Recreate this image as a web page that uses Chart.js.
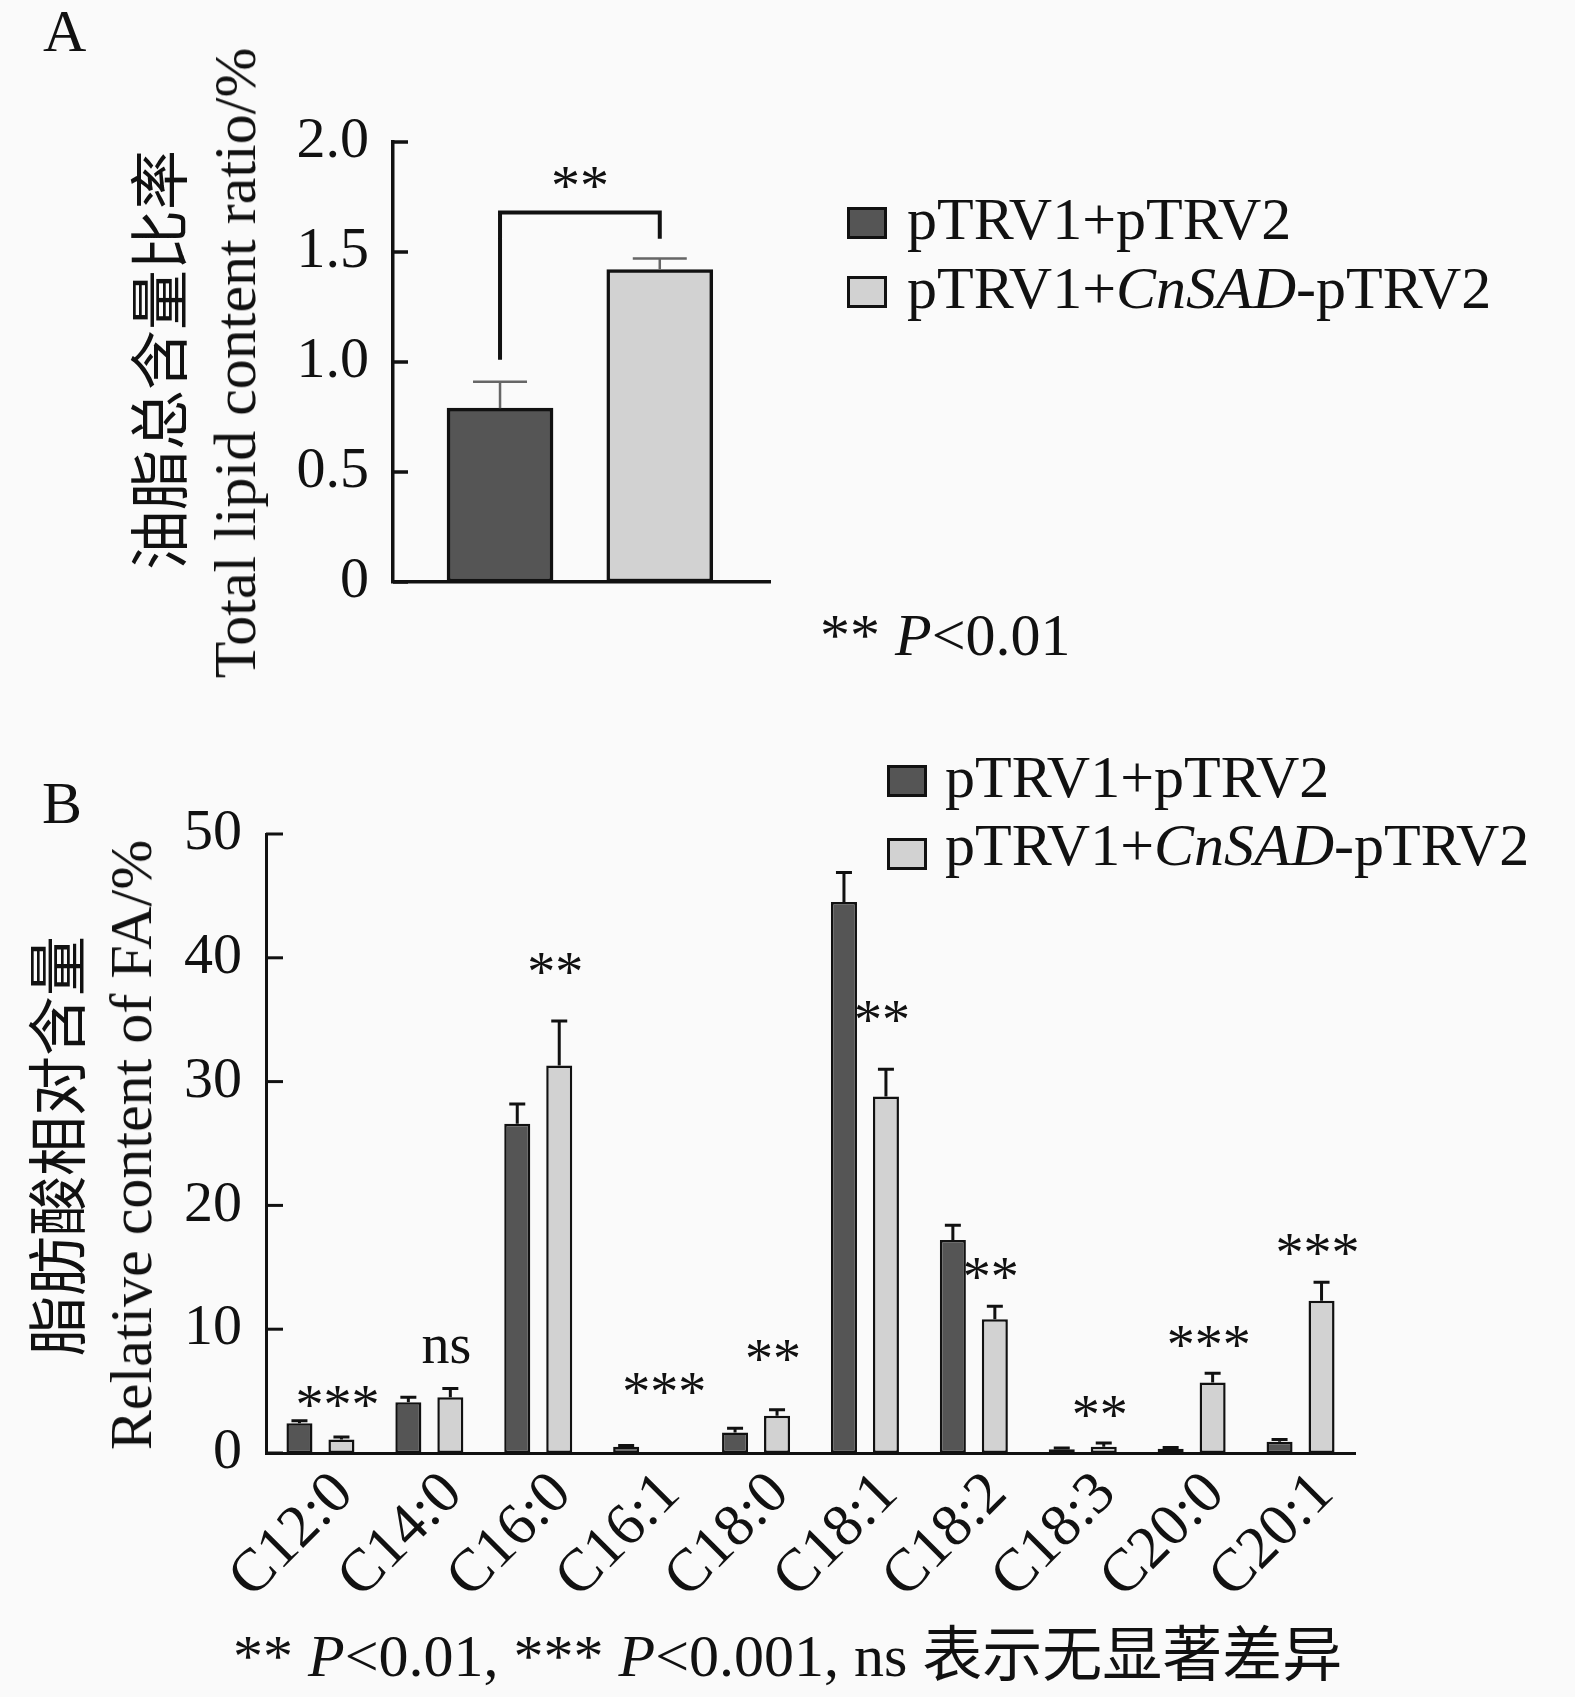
<!DOCTYPE html>
<html>
<head>
<meta charset="utf-8">
<script src="https://cdn.jsdelivr.net/npm/chart.js@4.4.0/dist/chart.umd.min.js"></script>
<style>
body { margin: 0; background: #fafafa; width: 1575px; height: 1697px; position: relative; overflow: hidden; }
canvas { position: absolute; left: 0; }
.t { position: absolute; font-family: 'Liberation Serif', 'Noto Sans CJK SC', serif; font-size: 60px; line-height: 60px; white-space: nowrap; color: #111; }
.rot { transform: translate(-50%, -50%) rotate(-90deg); }
.sw { position: absolute; width: 34px; height: 26px; border: 3px solid #111; }
</style>
</head>
<body>
<canvas id="chartA" width="800" height="700" style="top:0"></canvas>
<canvas id="chartB" width="1575" height="997" style="top:700px"></canvas>

<div class="t" style="left:43px;top:1px">A</div>
<div class="t rot" style="left:162px;top:360px">油脂总含量比率</div>
<div class="t rot" style="left:235px;top:363px">Total lipid content ratio/%</div>
<div class="sw" style="left:847px;top:207px;background:#555555"></div>
<div class="t" style="left:907px;top:189px">pTRV1+pTRV2</div>
<div class="sw" style="left:847px;top:276px;background:#d2d2d2"></div>
<div class="t" style="left:907px;top:258px">pTRV1+<i>CnSAD</i>-pTRV2</div>
<div class="t" style="left:820px;top:605px">** <i>P</i>&lt;0.01</div>

<div class="t" style="left:42px;top:773px">B</div>
<div class="t rot" style="left:60px;top:1146px">脂肪酸相对含量</div>
<div class="t rot" style="left:131px;top:1145px">Relative content of FA/%</div>
<div class="sw" style="left:887px;top:765px;background:#555555"></div>
<div class="t" style="left:945px;top:747px">pTRV1+pTRV2</div>
<div class="sw" style="left:887px;top:838px;background:#d2d2d2"></div>
<div class="t" style="left:945px;top:815px">pTRV1+<i>CnSAD</i>-pTRV2</div>
<div class="t" style="left:233px;top:1626px">** <i>P</i>&lt;0.01, *** <i>P</i>&lt;0.001, ns 表示无显著差异</div>

<script>
// panel A: total lipid content ratio
const ratioMean = [0.79, 1.42];
const ratioErr = [0.12, 0.05];
const bracketA = [1.01, 1.68, 1.56];   // left foot, top, right foot
const sigA = '**';
const sigALevel = 1.84;

// panel B: relative fatty acid content
const fattyAcids = ['C12:0', 'C14:0', 'C16:0', 'C16:1', 'C18:0', 'C18:1', 'C18:2', 'C18:3', 'C20:0', 'C20:1'];
const ctrlMean = [2.4, 4.1, 26.6, 0.5, 1.65, 44.5, 17.2, 0.3, 0.35, 0.9];
const ctrlErr  = [0.2, 0.4, 1.6, 0.1, 0.35, 2.4, 1.2, 0.1, 0.1, 0.2];
const sadMean  = [1.1, 4.5, 31.3, 0, 3.0, 28.8, 10.8, 0.5, 5.7, 12.3];
const sadErr   = [0.2, 0.7, 3.6, 0, 0.5, 2.2, 1.05, 0.3, 0.75, 1.5];
const sigB = ['***', 'ns', '**', '***', '**', '**', '**', '**', '***', '***'];
const sigBLevel = [4.5, 8.3, 39.5, 5.6, 8.2, 35.6, 14.9, 3.7, 9.4, 16.8];

const serif = "'Liberation Serif', serif";
const dark = '#555555';
const light = '#d2d2d2';
const ink = '#111111';

Chart.defaults.color = ink;

// draw text so its ink is centred on y
function inkText(ctx, str, x, y) {
  const m = ctx.measureText(str);
  ctx.fillText(str, x, y + (m.actualBoundingBoxAscent - m.actualBoundingBoxDescent) / 2);
}

const innerTicks = {
  id: 'innerTicks',
  afterDraw(chart, args, opts) {
    const { ctx, chartArea } = chart;
    const y = chart.scales.y;
    ctx.save();
    ctx.strokeStyle = ink;
    ctx.lineWidth = opts.width;
    y.ticks.forEach(t => {
      const py = y.getPixelForValue(t.value);
      ctx.beginPath();
      ctx.moveTo(chartArea.left, py);
      ctx.lineTo(chartArea.left + opts.length, py);
      ctx.stroke();
    });
    ctx.restore();
  }
};

const errorBars = {
  id: 'errorBars',
  afterDatasetsDraw(chart, args, opts) {
    const ctx = chart.ctx;
    const y = chart.scales.y;
    ctx.save();
    ctx.strokeStyle = opts.color;
    ctx.lineWidth = opts.width;
    chart.data.datasets.forEach((ds, di) => {
      chart.getDatasetMeta(di).data.forEach((bar, i) => {
        const e = ds.errors[i];
        if (!e) return;
        const d = ds.data[i];
        const v = typeof d === 'object' ? d.y : d;
        const top = y.getPixelForValue(v + e);
        ctx.beginPath();
        ctx.moveTo(bar.x, bar.y);
        ctx.lineTo(bar.x, top);
        ctx.moveTo(bar.x - opts.cap / 2, top);
        ctx.lineTo(bar.x + opts.cap / 2, top);
        ctx.stroke();
      });
    });
    ctx.restore();
  }
};

const bracket = {
  id: 'bracket',
  afterDatasetsDraw(chart) {
    const { ctx, scales: { x, y } } = chart;
    const x1 = x.getPixelForValue(1), x2 = x.getPixelForValue(2);
    ctx.save();
    ctx.strokeStyle = ink;
    ctx.lineWidth = 4;
    ctx.beginPath();
    ctx.moveTo(x1, y.getPixelForValue(bracketA[0]));
    ctx.lineTo(x1, y.getPixelForValue(bracketA[1]));
    ctx.lineTo(x2, y.getPixelForValue(bracketA[1]));
    ctx.lineTo(x2, y.getPixelForValue(bracketA[2]));
    ctx.stroke();
    ctx.fillStyle = ink;
    ctx.font = '58px ' + serif;
    ctx.textAlign = 'center';
    inkText(ctx, sigA, x.getPixelForValue(1.5), y.getPixelForValue(sigALevel));
    ctx.restore();
  }
};

const sigLabels = {
  id: 'sigLabels',
  afterDatasetsDraw(chart) {
    const { ctx, scales: { x, y } } = chart;
    ctx.save();
    ctx.fillStyle = ink;
    ctx.font = '56px ' + serif;
    ctx.textAlign = 'center';
    sigB.forEach((s, i) => {
      inkText(ctx, s, x.getPixelForValue(i) + 17, y.getPixelForValue(sigBLevel[i]));
    });
    ctx.restore();
  }
};

new Chart(document.getElementById('chartA'), {
  type: 'bar',
  data: {
    datasets: [{
      data: ratioMean.map((v, i) => ({ x: i + 1, y: v })),
      errors: ratioErr,
      backgroundColor: [dark, light],
      borderColor: ink,
      borderWidth: 3.5,
      borderSkipped: false,
      barThickness: 106
    }]
  },
  options: {
    responsive: false,
    animation: false,
    devicePixelRatio: 1,
    layout: { padding: { left: 0, top: 142, right: 30, bottom: 0 } },
    plugins: {
      legend: { display: false },
      tooltip: { enabled: false },
      innerTicks: { length: 15, width: 3.5 },
      errorBars: { color: '#666666', width: 2.5, cap: 54 }
    },
    scales: {
      x: {
        type: 'linear', min: 0.33, max: 2.69, offset: false,
        grid: { display: false, drawTicks: false },
        ticks: { display: false },
        border: { display: true, color: ink, width: 3.5, z: 1 },
        afterFit(s) { s.height = 118; }
      },
      y: {
        min: 0, max: 2,
        grid: { display: false, drawTicks: false },
        border: { display: true, color: ink, width: 3.5, z: 1 },
        ticks: {
          stepSize: 0.5, padding: 24, color: ink,
          font: { family: serif, size: 58 },
          callback: v => v === 0 ? '0' : v.toFixed(1)
        },
        afterFit(s) { s.width = 393; }
      }
    }
  },
  plugins: [innerTicks, errorBars, bracket]
});

new Chart(document.getElementById('chartB'), {
  type: 'bar',
  data: {
    labels: fattyAcids,
    datasets: [
      { label: 'pTRV1+pTRV2', data: ctrlMean, errors: ctrlErr, backgroundColor: dark },
      { label: 'pTRV1+CnSAD-pTRV2', data: sadMean, errors: sadErr, backgroundColor: light }
    ]
  },
  options: {
    responsive: false,
    animation: false,
    devicePixelRatio: 1,
    layout: { padding: { left: 0, top: 134, right: 220, bottom: 0 } },
    datasets: {
      bar: { categoryPercentage: 0.771, barPercentage: 0.62, borderColor: ink, borderWidth: 2.5, borderSkipped: false }
    },
    plugins: {
      legend: { display: false },
      tooltip: { enabled: false },
      innerTicks: { length: 17, width: 3 },
      errorBars: { color: ink, width: 3, cap: 16 }
    },
    scales: {
      x: {
        grid: { display: false, drawTicks: false },
        border: { display: true, color: ink, width: 3, z: 1 },
        ticks: {
          autoSkip: false, minRotation: 45, maxRotation: 45,
          padding: 6, labelOffset: 24, color: ink,
          font: { family: serif, size: 60 }
        },
        afterFit(s) { s.height = 244; }
      },
      y: {
        min: 0, max: 50,
        grid: { display: false, drawTicks: false },
        border: { display: true, color: ink, width: 3, z: 1 },
        ticks: { stepSize: 10, padding: 24, color: ink, font: { family: serif, size: 58 } },
        afterFit(s) { s.width = 266; }
      }
    }
  },
  plugins: [innerTicks, errorBars, sigLabels]
});
</script>
</body>
</html>
